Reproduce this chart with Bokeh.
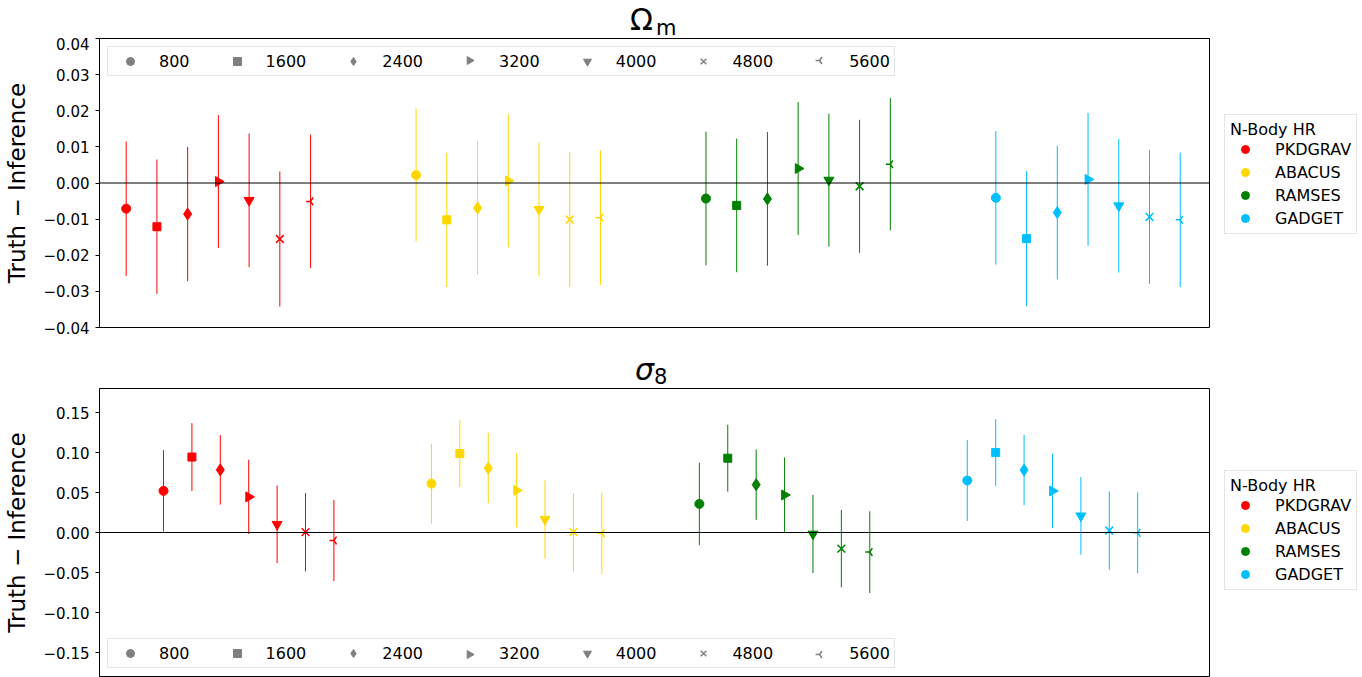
import numpy as np
import pandas as pd
from bokeh.plotting import figure
from bokeh.layouts import column
from bokeh.models import (ColumnDataSource, Legend, LegendItem, Span, Div,
                          FixedTicker, CustomJSTickFormatter, Range1d)
from bokeh.embed import file_html
from bokeh.resources import INLINE

# ---------------- data ----------------
simulations = ["PKDGRAV", "ABACUS", "RAMSES", "GADGET"]
particles = ["800", "1600", "2400", "3200", "4000", "4800", "5600"]

# Omega_m : Truth - Inference (mean) and 1-sigma error
om_pkdgrav = [-0.0071, -0.0121, -0.0086, 0.0004, -0.0048, -0.0155, -0.0051]
om_abacus = [0.0022, -0.0102, -0.0069, 0.0006, -0.0073, -0.0101, -0.0096]
om_ramses = [-0.0043, -0.0062, -0.0044, 0.0040, 0.0008, -0.0009, 0.0052]
om_gadget = [-0.0041, -0.0154, -0.0082, 0.0010, -0.0063, -0.0094, -0.0102]
om_err_pkdgrav = [0.0186, 0.0186, 0.0186, 0.0184, 0.0185, 0.0187, 0.0185]
om_err_abacus = [0.0184, 0.0186, 0.0185, 0.0184, 0.0185, 0.0186, 0.0186]
om_err_ramses = [0.0185, 0.0185, 0.0185, 0.0184, 0.0184, 0.0184, 0.0183]
om_err_gadget = [0.0185, 0.0187, 0.0185, 0.0184, 0.0185, 0.0185, 0.0186]

# sigma_8 : Truth - Inference (mean) and 1-sigma error
s8_pkdgrav = [0.0521, 0.0943, 0.0783, 0.0445, 0.0102, 0.0004, -0.0100]
s8_abacus = [0.0611, 0.0987, 0.0804, 0.0526, 0.0164, 0.0004, -0.0010]
s8_ramses = [0.0357, 0.0929, 0.0598, 0.0469, -0.0019, -0.0201, -0.0245]
s8_gadget = [0.0650, 0.0999, 0.0781, 0.0519, 0.0208, 0.0025, -0.0004]
s8_err_pkdgrav = [0.0509, 0.0424, 0.0434, 0.0465, 0.0484, 0.0490, 0.0507]
s8_err_abacus = [0.0499, 0.0418, 0.0438, 0.0463, 0.0488, 0.0490, 0.0509]
s8_err_ramses = [0.0515, 0.0418, 0.0440, 0.0470, 0.0488, 0.0484, 0.0511]
s8_err_gadget = [0.0505, 0.0418, 0.0440, 0.0465, 0.0486, 0.0490, 0.0507]

om_ticks = [-0.04, -0.03, -0.02, -0.01, 0.0, 0.01, 0.02, 0.03, 0.04]
s8_ticks = [-0.15, -0.10, -0.05, 0.0, 0.05, 0.10, 0.15]

# ---------------- style ----------------
FONT = "DejaVu Sans"
FRAME_W = 1110
sim_colors = ["#ff0000", "#ffd700", "#008000", "#00bfff"]
marker_styles = ["circle", "square", "diamond", "triangle", "inverted_triangle", "x", "y"]
marker_angles = [0.0, 0.0, 0.0, -np.pi / 2, 0.0, 0.0, -np.pi / 2]
marker_sizes = [9, 8, 12, 10, 10, 11, 9]
marker_lw = [1, 1, 1, 1, 1, 1.5, 1.5]
offset = 0.106  # horizontal step between particle counts inside a group

# marker-legend geometry (px)
LEG_MARGIN, LEG_PAD, LEG_GW, LEG_GH, LEG_STANDOFF, LEG_SPACING = 8, 4, 36, 20, 11, 29
DIGIT_W = 0.6362 * 16


def build_source(vals, errs):
    rows = []
    for g, (v, e) in enumerate(zip(vals, errs)):
        for j in range(len(particles)):
            rows.append(dict(x=g + j * offset, y=v[j], lo=v[j] - e[j], hi=v[j] + e[j],
                             color=sim_colors[g], marker=marker_styles[j],
                             angle=marker_angles[j], size=marker_sizes[j],
                             lw=marker_lw[j]))
    return ColumnDataSource(pd.DataFrame(rows))


tick_fmt = CustomJSTickFormatter(code="""
const s = Math.abs(tick).toFixed(2);
return (tick < -1e-12 ? "\u2212" : "") + s;
""")


def make_title(main_txt, sub_txt, italic, height, main_top, sub_top, main_left, sub_left):
    style = "font-style:italic;" if italic else ""
    html = (
        f'<div style="position:relative;width:1306px;height:{height}px;'
        f'font-family:\'{FONT}\';color:black;">'
        f'<span style="position:absolute;left:{main_left}px;top:{main_top}px;'
        f'font-size:30px;line-height:normal;{style}">{main_txt}</span>'
        f'<span style="position:absolute;left:{sub_left}px;top:{sub_top}px;'
        f'font-size:21px;line-height:normal;">{sub_txt}</span></div>'
    )
    return Div(text=html, width=1306, height=height, margin=0)


def legend_glyph_px(j):
    """x offset (px from frame left) of the j-th marker-legend glyph centre."""
    x = LEG_MARGIN + LEG_PAD
    for k in range(j):
        x += LEG_GW + LEG_STANDOFF + len(particles[k]) * DIGIT_W + LEG_SPACING
    return x + LEG_GW / 2


def make_panel(vals, errs, x_lim, y_lim, ticks, frame_h, b_bottom, leg_loc, right_leg_y):
    p = figure(frame_width=FRAME_W, frame_height=frame_h,
               min_border_left=98, min_border_right=154,
               min_border_top=1, min_border_bottom=b_bottom,
               x_range=Range1d(*x_lim), y_range=Range1d(*y_lim),
               x_axis_location=None, toolbar_location=None, tools="",
               output_backend="svg")
    p.grid.visible = False
    p.outline_line_color = "black"
    p.outline_line_alpha = 1
    p.outline_line_width = 1
    p.background_fill_color = "white"
    p.border_fill_color = "white"

    ax = p.yaxis[0]
    ax.ticker = FixedTicker(ticks=ticks)
    ax.formatter = tick_fmt
    ax.major_label_text_font = FONT
    ax.major_label_text_font_size = "15px"
    ax.major_label_text_color = "black"
    ax.axis_line_color = "black"
    ax.major_tick_line_color = "black"
    ax.major_tick_out = 4
    ax.major_tick_in = 0
    ax.minor_tick_line_color = None
    ax.major_label_standoff = 6
    ax.axis_label = "Truth \u2212 Inference"
    ax.axis_label_text_font = FONT
    ax.axis_label_text_font_size = "23px"
    ax.axis_label_text_font_style = "normal"
    ax.axis_label_text_color = "black"
    ax.axis_label_standoff = 11

    p.add_layout(Span(location=0, dimension="width", line_color="black", line_width=1))

    src = build_source(vals, errs)
    p.segment(x0="x", y0="lo", x1="x", y1="hi", line_color="color", line_width=1,
              source=src)
    p.scatter(x="x", y="y", marker="marker", size="size", angle="angle",
              fill_color="color", line_color="color", line_width="lw", source=src)

    # marker legend (grey); rotated markers are overlaid since legend glyphs ignore angle
    xl, xr = x_lim
    yl, yr = y_lim
    gy_px = LEG_MARGIN + LEG_PAD + LEG_GH / 2
    if leg_loc.startswith("top"):
        gy = yr - gy_px * (yr - yl) / frame_h
    else:
        gy = yl + gy_px * (yr - yl) / frame_h
    m_items = []
    for j, lab in enumerate(particles):
        rotated = marker_angles[j] != 0
        r = p.scatter(x=[np.nan], y=[np.nan], marker=marker_styles[j],
                      fill_color="#808080", line_color="#808080",
                      line_width=marker_lw[j],
                      fill_alpha=0 if rotated else 1, line_alpha=0 if rotated else 1)
        m_items.append(LegendItem(label=lab, renderers=[r]))
        if rotated:
            gx = xl + legend_glyph_px(j) * (xr - xl) / FRAME_W
            p.scatter(x=[gx], y=[gy], marker=marker_styles[j], angle=marker_angles[j],
                      size=8, fill_color="#808080", line_color="#808080",
                      line_width=marker_lw[j], level="overlay")
    leg1 = Legend(items=m_items, orientation="horizontal", location=leg_loc,
                  margin=LEG_MARGIN, padding=LEG_PAD, spacing=LEG_SPACING,
                  glyph_width=LEG_GW, glyph_height=LEG_GH,
                  label_standoff=LEG_STANDOFF, label_height=20, label_width=10,
                  label_text_font=FONT, label_text_font_size="16px",
                  label_text_color="black",
                  border_line_color="#cccccc", border_line_width=1,
                  background_fill_alpha=0)
    p.add_layout(leg1)

    # simulation legend (outside, right)
    s_items = []
    for g, lab in enumerate(simulations):
        r = p.scatter(x=[np.nan], y=[np.nan], marker="circle",
                      fill_color=sim_colors[g], line_color=sim_colors[g])
        s_items.append(LegendItem(label=lab, renderers=[r]))
    leg2 = Legend(items=s_items, location=(15, right_leg_y), margin=0,
                  title="N-Body HR", title_text_font=FONT, title_text_font_size="16px",
                  title_text_font_style="normal", title_text_color="black",
                  title_standoff=0, padding=5, spacing=3, glyph_width=30,
                  glyph_height=20, label_height=20, label_standoff=15,
                  label_text_font=FONT, label_text_font_size="16px",
                  label_text_color="black",
                  border_line_color="#cccccc", border_line_width=1,
                  background_fill_alpha=0.8)
    p.add_layout(leg2, "right")
    return p


t1 = make_title("\u03a9", "m", False, 37, 1.5, 15.5, 630, 656)
p1 = make_panel([om_pkdgrav, om_abacus, om_ramses, om_gadget],
                [om_err_pkdgrav, om_err_abacus, om_err_ramses, om_err_gadget],
                (-0.0921, 3.737), (-0.04, 0.04), om_ticks, 289, 10,
                "top_left", 93)

t2 = make_title("\u03c3", "8", True, 50, 14.5, 27.8, 635, 654)
p2 = make_panel([s8_pkdgrav, s8_abacus, s8_ramses, s8_gadget],
                [s8_err_pkdgrav, s8_err_abacus, s8_err_ramses, s8_err_gadget],
                (-0.2389, 3.904), (-0.18, 0.18), s8_ticks, 288, 1,
                "bottom_left", 86)

layout = column(t1, p1, t2, p2, spacing=0)
open("out.html", "w").write(file_html(layout, INLINE))
